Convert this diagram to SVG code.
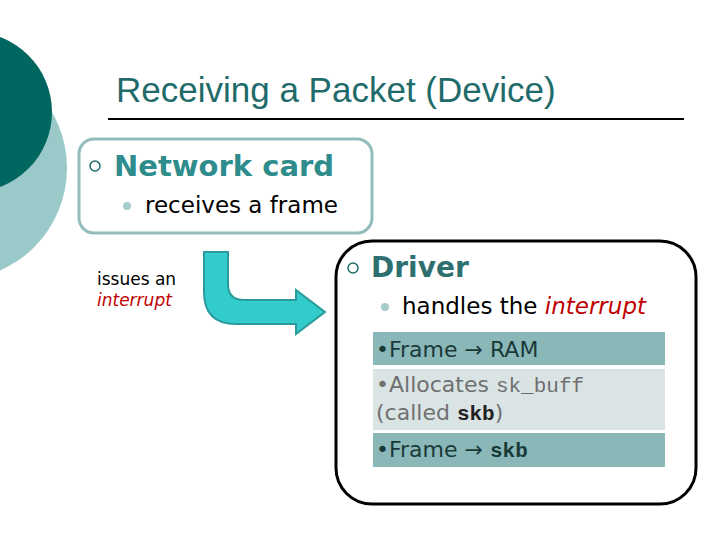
<svg xmlns="http://www.w3.org/2000/svg" width="720" height="540" viewBox="0 0 720 540">
<style>
.s{font-family:"Liberation Sans",Arial,sans-serif}
.v{font-family:Verdana,"DejaVu Sans",sans-serif}
.m{font-family:"Liberation Mono","Courier New",monospace;font-weight:bold}
</style>
<rect width="720" height="540" fill="#fff"/>
<circle cx="-45" cy="168" r="112" fill="#99c9c9"/>
<circle cx="-28" cy="112" r="80" fill="#006660"/>
<text x="116" y="102" class="s" font-size="35" fill="#1f6b6b">Receiving a Packet (Device)</text>
<line x1="108" y1="119" x2="684" y2="119" stroke="#000" stroke-width="2"/>
<g id="network-card">
<rect x="79" y="139" width="293" height="94" rx="15" fill="none" stroke="#93bcbc" stroke-width="3"/>
<circle cx="95" cy="166" r="5" fill="none" stroke="#1f6b6b" stroke-width="1.5"/>
<text x="114" y="176" class="v" font-size="29" font-weight="bold" fill="#2e8c8c">Network card</text>
<circle cx="127" cy="206" r="4" fill="#a6cccc"/>
<text x="145" y="213" class="v" font-size="23" fill="#000">receives a frame</text>
</g>
<g id="connectors">
<path d="M204,252 L228,252 L228,284 Q228,300 244,300 L296,300 L296,290 L325,312 L296,334 L296,324 L236,324 Q204,324 204,292 Z" fill="#33cccc" stroke="#2a9a9a" stroke-width="2"/>
</g>
<g id="interrupt-label">
<text x="97" y="285" class="v" font-size="17" fill="#000">issues an</text>
<text x="97" y="306" class="v" font-size="17" font-style="italic" fill="#c00000">interrupt</text>
</g>
<g id="driver">
<rect x="336" y="241" width="360" height="263" rx="36" fill="none" stroke="#000" stroke-width="3"/>
<circle cx="353" cy="268" r="5" fill="none" stroke="#1f6b6b" stroke-width="1.5"/>
<text x="371" y="277" class="v" font-size="28" font-weight="bold" fill="#2e7070">Driver</text>
<circle cx="385" cy="307" r="4" fill="#a6cccc"/>
<text x="402" y="314" class="v" font-size="23" fill="#000">handles the <tspan font-style="italic" fill="#c00000">interrupt</tspan></text>
<rect x="373" y="332" width="292" height="33" fill="#8ab8b8"/>
<text x="376" y="357" class="v" font-size="22" fill="#1a3a3a">•Frame → RAM</text>
<rect x="373" y="369" width="292" height="61" fill="#dae4e4"/>
<text x="376" y="392" class="v" font-size="22" fill="#707070">•Allocates <tspan class="m" style="font-weight:normal" font-size="21" fill="#707070">sk_buff</tspan></text>
<text x="376" y="420" class="v" font-size="22" fill="#707070">(called <tspan class="m" font-size="21" fill="#222">skb</tspan>)</text>
<rect x="373" y="433" width="292" height="34" fill="#8ab8b8"/>
<text x="376" y="457" class="v" font-size="22" fill="#1a3a3a">•Frame → <tspan class="m" font-size="21">skb</tspan></text>
</g>
</svg>
